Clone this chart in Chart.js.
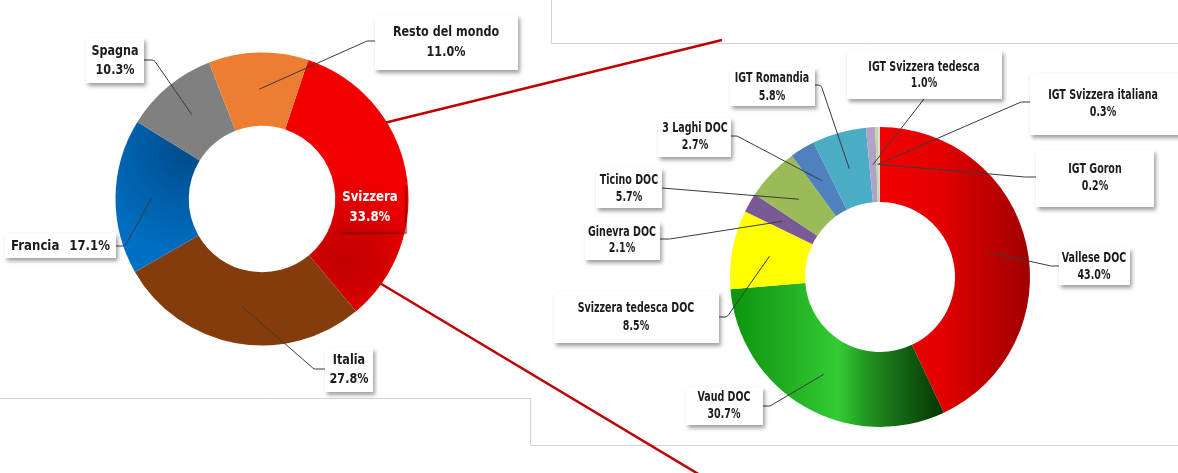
<!DOCTYPE html>
<html><head><meta charset="utf-8">
<script src="https://cdn.jsdelivr.net/npm/chart.js@4.4.1/dist/chart.umd.min.js"></script>
<style>
html,body{margin:0;padding:0;background:#fff;width:1178px;height:473px;overflow:hidden}
#wrap{position:relative;width:1178px;height:473px}
canvas{position:absolute;left:0;top:0}
</style></head><body><div id="wrap"><canvas id="left" width="1178" height="473"></canvas><canvas id="right" width="1178" height="473"></canvas></div>
<script>
// ---------- DATA ----------
const countryLabels = ['Svizzera', 'Italia', 'Francia', 'Spagna', 'Resto del mondo'];
const countryShares = [33.8, 27.8, 17.1, 10.3, 11.0];

const swissLabels = ['Vallese DOC', 'Vaud DOC', 'Svizzera tedesca DOC', 'Ginevra DOC', 'Ticino DOC',
  '3 Laghi DOC', 'IGT Romandia', 'IGT Svizzera tedesca', 'IGT Svizzera italiana', 'IGT Goron'];
const swissShares = [43.0, 30.7, 8.5, 2.1, 5.7, 2.7, 5.8, 1.0, 0.3, 0.2];

// ---------- STYLE ----------
const FONT = 'bold 14px "DejaVu Sans", sans-serif';
const SQUEEZE = 0.68; // horizontal compression to mimic a condensed typeface
const countryColors = ['#f00000', '#843c0c', '#0070c0', '#808080', '#ed7d31'];
const swissColors = ['#e80000', '#22b022', '#ffff00', '#7a5a96', '#9bbb59', '#4f81bd', '#4bacc6', '#b3a2c7', '#c4d79b', '#d9d9d9'];

function leftFill(c) {
  const ch = c.chart, ctx = ch.ctx, a = ch.chartArea, i = c.dataIndex;
  if (!a) return countryColors[i];
  const cx = (a.left + a.right) / 2, cy = (a.top + a.bottom) / 2, r = (a.right - a.left) / 2;
  if (i === 0) {
    const g = ctx.createRadialGradient(cx + r * 0.56, cy + r * 0.42, 0, cx + r * 0.56, cy + r * 0.42, r * 0.6);
    g.addColorStop(0, '#c00000'); g.addColorStop(0.35, '#cf0000'); g.addColorStop(1, '#f20000');
    return g;
  }
  if (i === 2) {
    const g = ctx.createRadialGradient(cx - r * 0.48, cy - r * 0.34, 0, cx - r * 0.48, cy - r * 0.34, r * 0.75);
    g.addColorStop(0, '#004a88'); g.addColorStop(0.5, '#005ea8'); g.addColorStop(1, '#0070c4');
    return g;
  }
  return countryColors[i];
}
function rightFill(c) {
  const ch = c.chart, ctx = ch.ctx, a = ch.chartArea, i = c.dataIndex;
  if (!a) return swissColors[i];
  const w = a.right - a.left, x0 = a.left;
  if (i === 0) {
    const g = ctx.createLinearGradient(x0 + w * 0.5, 0, a.right, 0);
    g.addColorStop(0, '#f20000'); g.addColorStop(0.4, '#e20000'); g.addColorStop(1, '#a00000');
    return g;
  }
  if (i === 1) {
    const g = ctx.createLinearGradient(x0, 0, x0 + w * 0.72, 0);
    g.addColorStop(0, '#0a960a'); g.addColorStop(0.23, '#1faa1f'); g.addColorStop(0.5, '#33cc33');
    g.addColorStop(0.65, '#1f8f1f'); g.addColorStop(0.82, '#135e13'); g.addColorStop(1, '#003300');
    return g;
  }
  return swissColors[i];
}

// ---------- LABEL LAYOUT (pixel boxes for callouts) ----------
const leftLayout = [
  { inside: true, tx: 370, ty: [197, 217], shadowBox: [336, 182, 70, 51], sq: 0.84 },
  { box: [325, 348, 48, 44], tx: 349, ty: [360, 379], ax: 325, ay: 369, ex: 314, sq: 0.8 },
  { box: [5, 233, 111, 25], oneLine: true, ty: [246], ax: 116, ay: 246, ex: 125, sq: 0.84 },
  { box: [86, 38, 58, 45], tx: 115, ty: [51, 70], ax: 144, ay: 60, ex: 154, sq: 0.8 },
  { box: [375, 15, 143, 55], tx: 446, ty: [32, 52], ax: 375, ay: 41, ex: 367, sq: 0.8 }
];
const rightLayout = [
  { box: [1059, 248, 71, 37], tx: 1094, ty: [258, 275], ax: 1059, ay: 266, ex: 1051 },
  { box: [686, 387, 77, 38], tx: 724, ty: [397, 414], ax: 763, ay: 406, ex: 770 },
  { box: [554, 292, 165, 51], tx: 636, ty: [308, 326], ax: 719, ay: 317, ex: 727 },
  { box: [585, 222, 75, 38], tx: 622, ty: [232, 248], ax: 660, ay: 239, ex: 670 },
  { box: [596, 168, 66, 40], tx: 629, ty: [180, 197], ax: 662, ay: 188 },
  { box: [658, 118, 73, 39], tx: 695, ty: [128, 145], ax: 731, ay: 136, ex: 737 },
  { box: [730, 68, 85, 38], tx: 772, ty: [78, 96], ax: 815, ay: 85, ex: 821 },
  { box: [847, 50, 155, 49], tx: 924, ty: [67, 83], ax: 924, ay: 99 },
  { box: [1030, 73, 150, 62], tx: 1103, ty: [95, 112], ax: 1030, ay: 102, ex: 1021 },
  { box: [1036, 150, 118, 57], tx: 1095, ty: [169, 186], ax: 1036, ay: 177, ex: 1025 }
];

function squeezedText(ctx, t, x, y, k) {
  ctx.fillText(t, x, y, ctx.measureText(t).width * k);
}

const calloutPlugin = {
  id: 'callouts',
  afterDatasetsDraw(chart, args, opts) {
    const ctx = chart.ctx, meta = chart.getDatasetMeta(0);
    const labels = chart.data.labels, vals = chart.data.datasets[0].data;
    opts.layout.forEach((L, i) => {
      const c = meta.data[i].tooltipPosition();
      const t1 = labels[i], t2 = vals[i].toFixed(1) + '%';
      const k = L.sq || SQUEEZE;
      ctx.save();
      ctx.font = FONT; ctx.textBaseline = 'middle';
      if (L.inside) {
        const b = L.shadowBox;
        ctx.strokeStyle = 'rgba(110,0,0,0.55)'; ctx.lineWidth = 1.5;
        ctx.shadowColor = 'rgba(80,0,0,0.6)'; ctx.shadowBlur = 3;
        ctx.beginPath(); ctx.moveTo(b[0] + 4, b[1] + b[3]); ctx.lineTo(b[0] + b[2], b[1] + b[3]); ctx.lineTo(b[0] + b[2], b[1] + 4); ctx.stroke();
        ctx.shadowColor = 'transparent';
        ctx.fillStyle = '#ffffff'; ctx.textAlign = 'center';
        squeezedText(ctx, t1, L.tx, L.ty[0], k); squeezedText(ctx, t2, L.tx, L.ty[1], k);
        ctx.restore();
        return;
      }
      ctx.strokeStyle = '#3a3a3a'; ctx.lineWidth = 1;
      ctx.beginPath(); ctx.moveTo(L.ax, L.ay);
      if (L.ex !== undefined) ctx.arcTo(L.ex, L.ay, c.x, c.y, 4);
      ctx.lineTo(c.x, c.y); ctx.stroke();
      const b = L.box;
      ctx.save();
      ctx.shadowColor = 'rgba(0,0,0,0.38)'; ctx.shadowBlur = 4; ctx.shadowOffsetX = 2; ctx.shadowOffsetY = 3;
      ctx.fillStyle = '#ffffff'; ctx.fillRect(b[0], b[1], b[2], b[3]);
      ctx.restore();
      ctx.fillStyle = '#1c1c1c';
      if (L.oneLine) {
        ctx.textAlign = 'left'; squeezedText(ctx, t1, b[0] + 6, L.ty[0], k);
        ctx.textAlign = 'right'; squeezedText(ctx, t2, b[0] + b[2] - 6, L.ty[0], k);
      } else {
        ctx.textAlign = 'center';
        squeezedText(ctx, t1, L.tx, L.ty[0], k); squeezedText(ctx, t2, L.tx, L.ty[1], k);
      }
      ctx.restore();
    });
  }
};

const decorPlugin = {
  id: 'decor',
  beforeDatasetsDraw(chart) {
    const ctx = chart.ctx;
    ctx.save();
    ctx.strokeStyle = '#d2d2d2'; ctx.lineWidth = 1;
    ctx.beginPath();
    ctx.moveTo(551.5, 0); ctx.lineTo(551.5, 43.5); ctx.lineTo(1178, 43.5);
    ctx.moveTo(0, 398.5); ctx.lineTo(530.5, 398.5); ctx.lineTo(530.5, 445.5); ctx.lineTo(1178, 445.5);
    ctx.stroke();
    ctx.strokeStyle = '#c00000'; ctx.lineWidth = 2.5;
    ctx.beginPath();
    ctx.moveTo(380, 124); ctx.lineTo(722, 40);
    ctx.moveTo(378, 282); ctx.lineTo(700, 475);
    ctx.stroke();
    ctx.restore();
  }
};

function makeChart(id, labels, data, fill, rotation, padding, layout, extraPlugins) {
  return new Chart(document.getElementById(id), {
    type: 'doughnut',
    data: { labels, datasets: [{ data, backgroundColor: fill, borderWidth: 0, hoverOffset: 0 }] },
    options: {
      responsive: false, devicePixelRatio: 1, animation: false,
      rotation, cutout: '50%',
      layout: { padding },
      events: [],
      plugins: { legend: { display: false }, tooltip: { enabled: false }, callouts: { layout } }
    },
    plugins: [calloutPlugin].concat(extraPlugins || [])
  });
}

makeChart('left', countryLabels, countryShares, leftFill, 18.4,
  { left: 115.5, right: 769.5, top: 52.5, bottom: 127.5 }, leftLayout, [decorPlugin]);
makeChart('right', swissLabels, swissShares, rightFill, 0,
  { left: 730, right: 148, top: 127, bottom: 46 }, rightLayout);
</script></body></html>
